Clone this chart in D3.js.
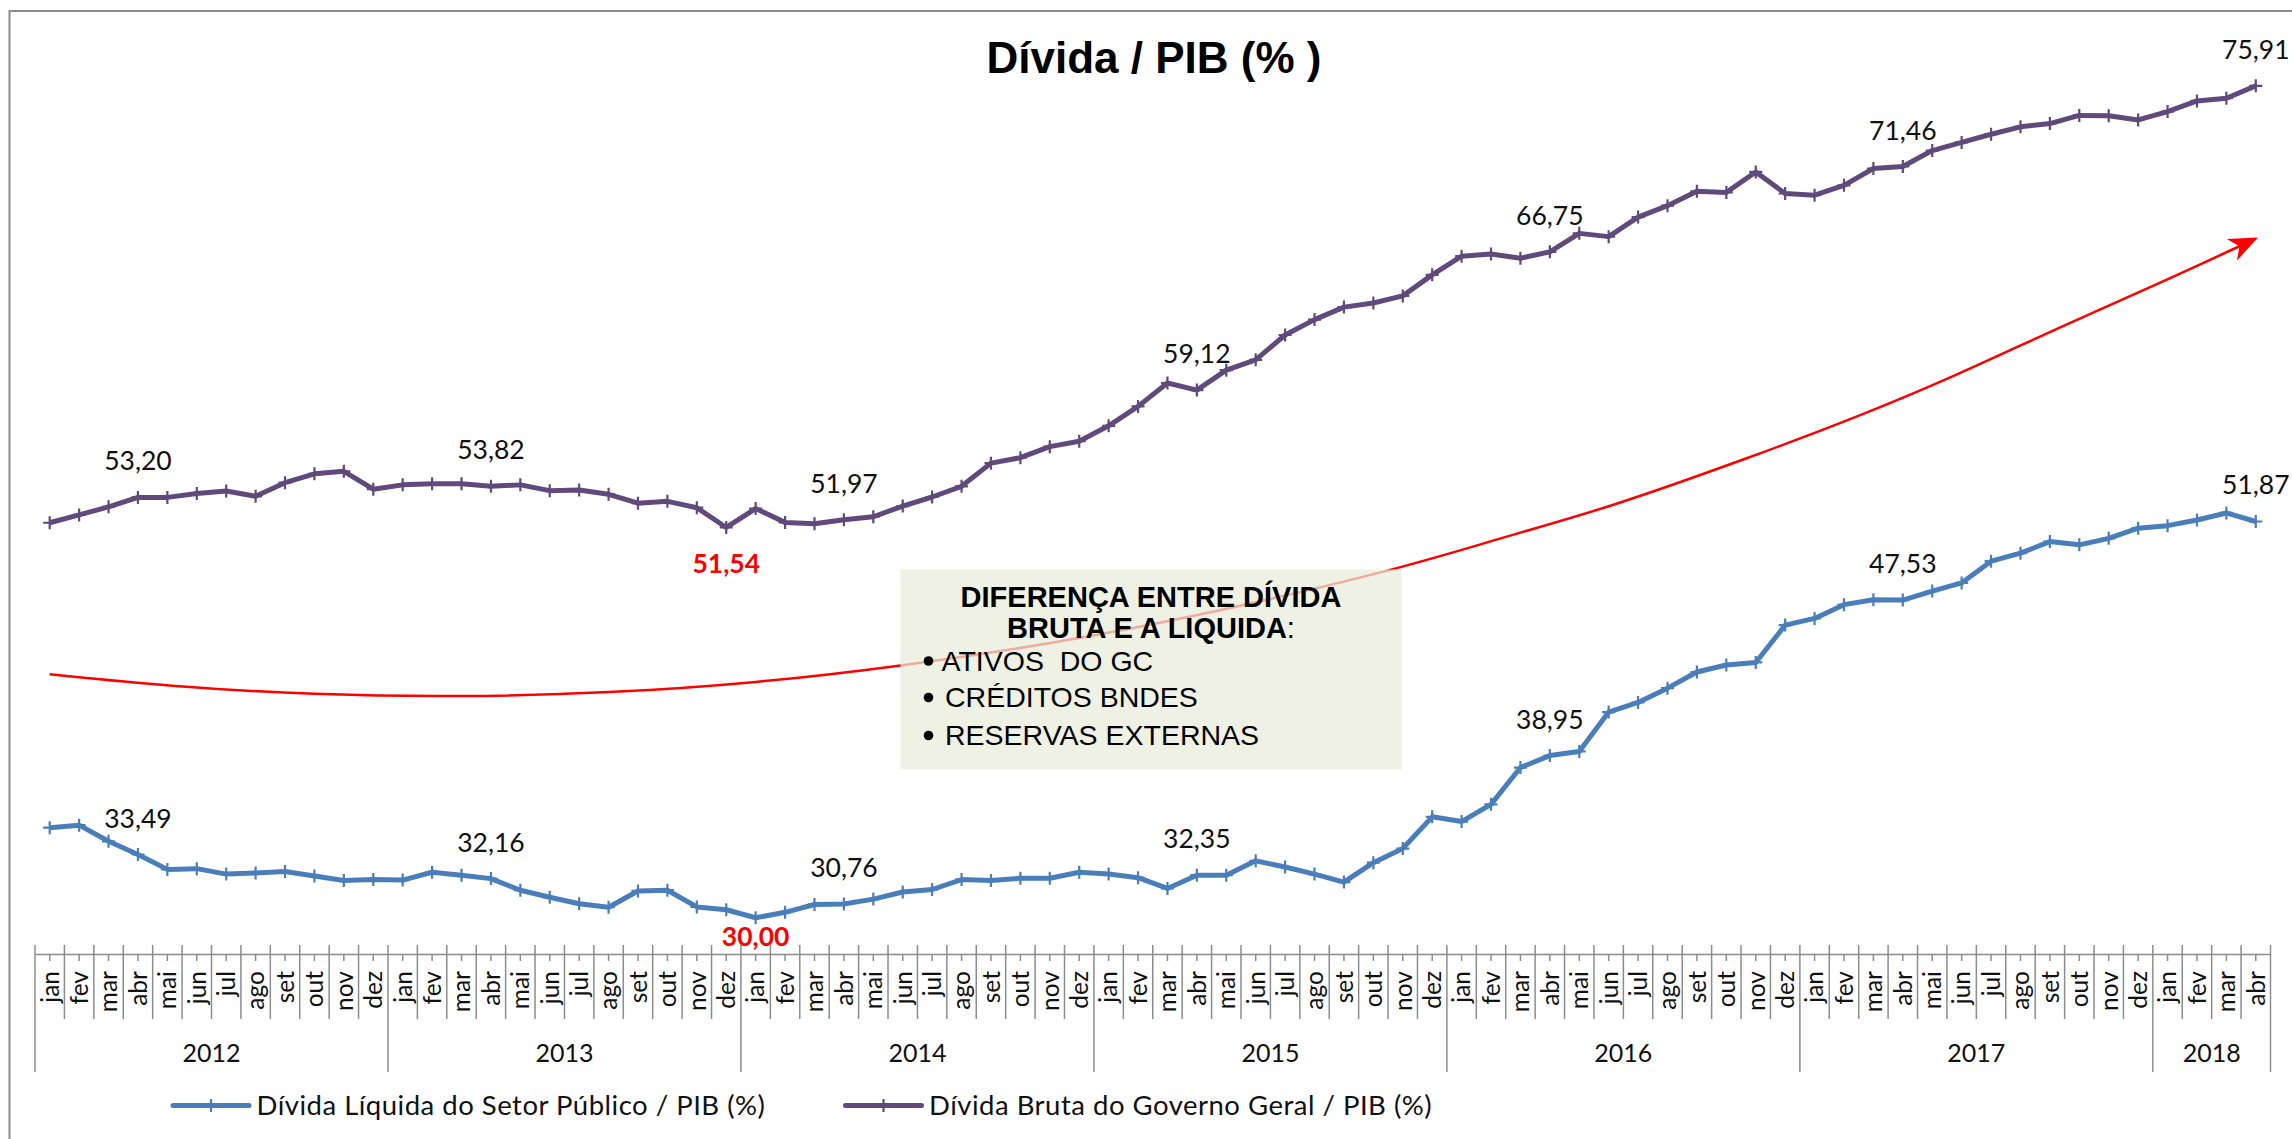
<!DOCTYPE html>
<html>
<head>
<meta charset="utf-8">
<script src="https://cdn.jsdelivr.net/npm/d3@7"></script>
<style>
  body { margin: 0; background: #fff; }
  svg { display: block; }
</style>
</head>
<body>
<div id="chart"></div>
<script>
// Data
const months = ['jan','fev','mar','abr','mai','jun','jul','ago','set','out','nov','dez']
const years = ['2012','2013','2014','2015','2016','2017','2018']

// Dívida Líquida do Setor Público / PIB (%)
const liquida = [
  34.97, 35.11, 34.22, 33.49, 32.67, 32.71, 32.41, 32.47, 32.55, 32.31, 32.06, 32.11,
  32.08, 32.51, 32.35, 32.16, 31.52, 31.13, 30.77, 30.58, 31.48, 31.52, 30.60, 30.44,
  30.00, 30.30, 30.73, 30.76, 31.03, 31.42, 31.56, 32.11, 32.06, 32.18, 32.18, 32.51,
  32.41, 32.21, 31.62, 32.35, 32.35, 33.14, 32.80, 32.41, 31.97, 33.04, 33.82, 35.57,
  35.31, 36.26, 38.29, 38.95, 39.18, 41.35, 41.88, 42.67, 43.56, 43.95, 44.09, 46.15,
  46.52, 47.28, 47.55, 47.53, 48.03, 48.48, 49.68, 50.12, 50.76, 50.58, 50.94, 51.50,
  51.64, 51.95, 52.34, 51.87
]
// Dívida Bruta do Governo Geral / PIB (%)
const bruta = [
  51.80, 52.23, 52.68, 53.20, 53.20, 53.41, 53.55, 53.26, 54.01, 54.50, 54.64, 53.65,
  53.89, 53.95, 53.95, 53.82, 53.89, 53.57, 53.61, 53.37, 52.88, 52.98, 52.63, 51.54,
  52.58, 51.82, 51.74, 51.97, 52.13, 52.72, 53.22, 53.81, 55.09, 55.39, 56.00, 56.30,
  57.15, 58.22, 59.51, 59.12, 60.22, 60.79, 62.16, 63.01, 63.70, 63.93, 64.32, 65.48,
  66.51, 66.63, 66.40, 66.75, 67.77, 67.59, 68.67, 69.30, 70.09, 70.03, 71.16, 69.97,
  69.88, 70.42, 71.35, 71.46, 72.34, 72.79, 73.24, 73.65, 73.83, 74.28, 74.26, 74.03,
  74.49, 75.08, 75.23, 75.91
]
const seriesNames = ['Dívida Líquida do Setor Público / PIB (%)', 'Dívida Bruta do Governo Geral / PIB (%)']
// months whose values are written on the chart
const labelMonth = 'abr'
// hand-drawn trend arrow (month index, % of PIB)
const gapTrend = [
  [0, 43.44], [4, 42.78], [9, 42.3], [14, 42.18], [19, 42.4], [24, 42.95],
  [29, 43.9], [34, 45.1], [39.4, 46.77], [45.9, 49.25], [49.4, 51.0], [53.0, 52.62],
  [57.9, 55.46], [61.4, 57.6], [64.9, 59.98], [68.3, 62.58], [71.8, 65.06], [75.0, 67.48]
]
const boxTitle = ['DIFERENÇA ENTRE DÍVIDA', 'BRUTA E A LIQUIDA']
const boxItems = ['ATIVOS  DO GC', 'CRÉDITOS BNDES', 'RESERVAS EXTERNAS']

const categories = d3.range(liquida.length).map(i => ({
  i: i,
  month: months[i % 12],
  year: years[Math.floor(i / 12)]
}))

// Dimensions
const width = 2292
const height = 1139
const plot = { left: 35, right: 2270.5, axisY: 954 }
const colors = { liquida: '#4A7EBB', bruta: '#604A7B', red: '#FF0000', grid: '#8C8C8C' }

// Scales
const xScale = d3.scaleBand()
  .domain(categories.map(d => d.i))
  .range([plot.left, plot.right])
  .padding(0)
const bw = xScale.bandwidth()
const xc = i => xScale(Math.round(i)) + bw / 2 + (i - Math.round(i)) * bw
const yScale = d3.scaleLinear()
  .domain([28, 78])
  .range([plot.axisY, plot.axisY - 50 * 18.12])

const comma = d3.formatLocale({ decimal: ',', thousands: '.', grouping: [3], currency: ['R$', ''] }).format('.2f')

const svg = d3.select('#chart')
  .append('svg')
  .attr('width', width)
  .attr('height', height)

// chart border
svg.append('rect')
  .attr('x', 9.5).attr('y', 11)
  .attr('width', 2400).attr('height', 1300)
  .attr('fill', 'none')
  .attr('stroke', colors.grid)
  .attr('stroke-width', 2)

// Title
svg.append('text')
  .attr('x', 1154)
  .attr('y', 72.5)
  .attr('text-anchor', 'middle')
  .style('font-family', '"Liberation Sans", Arial, sans-serif')
  .style('font-weight', 'bold')
  .style('font-size', '44px')
  .text('Dívida / PIB (% )')

// Trend arrow
const defs = svg.append('defs')
defs.append('marker')
  .attr('id', 'arrow')
  .attr('viewBox', '0 0 12 10')
  .attr('refX', 11).attr('refY', 5)
  .attr('markerWidth', 30).attr('markerHeight', 24)
  .attr('markerUnits', 'userSpaceOnUse')
  .attr('orient', 'auto')
  .append('path')
  .attr('d', 'M0,0 L12,5 L0,10 L3.5,5 Z')
  .attr('fill', colors.red)

svg.append('path')
  .datum(gapTrend)
  .attr('d', d3.line().x(d => xc(d[0])).y(d => yScale(d[1])).curve(d3.curveBasis))
  .attr('fill', 'none')
  .attr('stroke', colors.red)
  .attr('stroke-width', 2.5)
  .attr('marker-end', 'url(#arrow)')

// Text box
const box = svg.append('g')
box.append('rect')
  .attr('x', 900.5).attr('y', 569.5)
  .attr('width', 501).attr('height', 200)
  .attr('fill', 'rgb(232,236,217)')
  .attr('fill-opacity', 0.73)
box.selectAll('text.head')
  .data(boxTitle)
  .join('text')
  .attr('class', 'head')
  .attr('x', 1151)
  .attr('y', (d, k) => 606.5 + k * 31)
  .attr('text-anchor', 'middle')
  .style('font-family', '"Liberation Sans", Arial, sans-serif')
  .style('font-size', '29px')
  .each(function (d, k) {
    const t = d3.select(this)
    t.append('tspan').style('font-weight', 'bold').text(d)
    if (k === boxTitle.length - 1) t.append('tspan').text(':')
  })
const items = box.selectAll('g.item')
  .data(boxItems)
  .join('g')
  .attr('class', 'item')
  .attr('transform', (d, k) => `translate(0, ${[670.5, 707, 745][k]})`)
items.append('circle')
  .attr('cx', 928.5).attr('cy', -9.5).attr('r', 4.8)
  .attr('fill', '#000')
items.append('text')
  .attr('x', (d, k) => k === 0 ? 941.5 : 945)
  .style('font-family', '"Liberation Sans", Arial, sans-serif')
  .style('font-size', '28.5px')
  .style('white-space', 'pre')
  .attr('xml:space', 'preserve')
  .text(d => d)

// Lines
const series = [
  { key: 'liquida', name: seriesNames[0], values: liquida, color: colors.liquida },
  { key: 'bruta', name: seriesNames[1], values: bruta, color: colors.bruta }
]
const line = d3.line()
  .x((d, i) => xc(i))
  .y(d => yScale(d))
const plus = 'M-6.5,0H6.5M0,-6.5V6.5'

series.forEach(s => {
  svg.append('path')
    .datum(s.values)
    .attr('d', line)
    .attr('fill', 'none')
    .attr('stroke', s.color)
    .attr('stroke-width', 5)
    .attr('stroke-linejoin', 'round')
  svg.append('g')
    .selectAll('path')
    .data(s.values)
    .join('path')
    .attr('d', plus)
    .attr('transform', (d, i) => `translate(${xc(i)}, ${yScale(d)})`)
    .attr('stroke', s.color)
    .attr('stroke-width', 2.2)

  // April values
  svg.append('g')
    .selectAll('text')
    .data(categories.filter(c => c.month === labelMonth))
    .join('text')
    .attr('x', c => xc(c.i))
    .attr('y', c => yScale(s.values[c.i]) - 27)
    .attr('text-anchor', 'middle')
    .style('font-family', 'Lato, sans-serif')
    .style('font-size', '26.5px')
    .attr('fill', '#111')
    .text(c => comma(s.values[c.i]))

  // lowest point, in red below
  const iMin = d3.minIndex(s.values)
  svg.append('text')
    .attr('x', xc(iMin))
    .attr('y', yScale(s.values[iMin]) + (s.key === 'bruta' ? 46 : 28))
    .attr('text-anchor', 'middle')
    .style('font-family', 'Lato, sans-serif')
    .style('font-size', '26.5px')
    .style('font-weight', 'bold')
    .attr('fill', colors.red)
    .text(comma(s.values[iMin]))
})

// Axes
const xAxis = d3.axisBottom(xScale)
  .tickSize(7)
  .tickSizeOuter(0)
  .tickFormat('')
const xAxisGroup = svg.append('g')
  .attr('transform', `translate(0, ${plot.axisY})`)
  .call(xAxis)
xAxisGroup.selectAll('path, line')
  .attr('stroke', colors.grid)
  .attr('stroke-width', 1.5)

// separators between months and years
const bounds = d3.range(categories.length + 1)
svg.append('g')
  .selectAll('line')
  .data(bounds)
  .join('line')
  .attr('x1', k => plot.left + k * bw)
  .attr('x2', k => plot.left + k * bw)
  .attr('y1', plot.axisY - 9)
  .attr('y2', k => (k % 12 === 0 || k === categories.length) ? 1072 : 1019)
  .attr('stroke', colors.grid)
  .attr('stroke-width', 1.5)

svg.append('g')
  .selectAll('text')
  .data(categories)
  .join('text')
  .attr('transform', c => `translate(${xc(c.i)}, 971) rotate(-90)`)
  .attr('dy', '0.36em')
  .attr('text-anchor', 'end')
  .style('font-family', 'Lato, sans-serif')
  .style('font-size', '24.5px')
  .attr('fill', '#111')
  .text(c => c.month)

const yearGroups = d3.groups(categories, c => c.year)
svg.append('g')
  .selectAll('text')
  .data(yearGroups)
  .join('text')
  .attr('x', g => (xScale(g[1][0].i) + xScale(g[1][g[1].length - 1].i) + bw) / 2)
  .attr('y', 1061.5)
  .attr('text-anchor', 'middle')
  .style('font-family', 'Lato, sans-serif')
  .style('font-size', '25px')
  .attr('fill', '#111')
  .text(g => g[0])

// Legend
const legend = svg.append('g')
  .selectAll('g')
  .data(series)
  .join('g')
  .attr('transform', (s, k) => `translate(${[173, 845.5][k]}, 1105.5)`)
legend.append('line')
  .attr('x1', 0).attr('x2', 76)
  .attr('stroke', s => s.color)
  .attr('stroke-width', 5)
  .attr('stroke-linecap', 'round')
legend.append('path')
  .attr('d', plus)
  .attr('transform', 'translate(38, 0)')
  .attr('stroke', s => s.color)
  .attr('stroke-width', 2.2)
legend.append('text')
  .attr('x', 83.5)
  .attr('y', 9.5)
  .style('font-family', 'Lato, sans-serif')
  .style('font-size', '27.5px')
  .style('letter-spacing', '0.5px')
  .attr('fill', '#111')
  .text(s => s.name)
</script>
</body>
</html>
